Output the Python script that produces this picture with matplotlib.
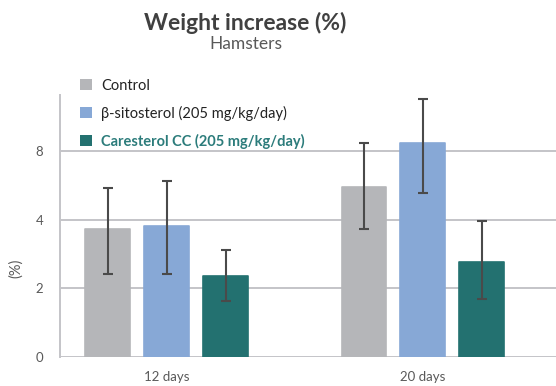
import numpy as np
import matplotlib
matplotlib.use("Agg")
import matplotlib.pyplot as plt

plt.rcParams['font.family'] = ['Lato', 'DejaVu Sans']

# data (values read in axis units; tick labels as printed on the original)
groups = ["12 days", "20 days"]
series = ["Control", "β-sitosterol (205 mg/kg/day)", "Caresterol CC (205 mg/kg/day)"]
means = [
    [3.73, 4.96],
    [3.82, 6.25],
    [2.36, 2.77],
]
err_low = [
    [2.41, 3.73],
    [2.41, 4.79],
    [1.63, 1.70],
]
err_high = [
    [4.92, 6.24],
    [5.13, 7.52],
    [3.13, 3.97],
]
ytick_pos = [0, 2, 4, 6]
ytick_labels = ["0", "2", "4", "8"]

colors = ["#b5b6b9", "#87a8d6", "#237170"]
grid_col = "#c4c4c8"
text_col = "#595959"

fig = plt.figure(figsize=(5.56, 3.86), dpi=100)
ax = fig.add_axes([60 / 556, 29 / 386, 496 / 556, 262 / 386])

x = np.arange(len(groups))
width = 0.174
step = 0.23
for i, name in enumerate(series):
    m = np.array(means[i])
    lo = m - np.array(err_low[i])
    hi = np.array(err_high[i]) - m
    xs = x + (i - 1) * step
    ax.bar(xs, m, width=width, color=colors[i], edgecolor=colors[i],
           linewidth=1.2, joinstyle="round", label=name, zorder=2)
    ax.errorbar(xs, m, yerr=[lo, hi], fmt="none", ecolor="#4a4a4a",
                elinewidth=1.5, capsize=3.3, capthick=1.5, zorder=3)

ax.set_xlim(-0.416, 1.52)
ax.set_ylim(0, 7.64)
ax.set_yticks(ytick_pos)
ax.set_yticklabels(ytick_labels)
ax.set_xticks(x)
ax.set_xticklabels(groups)
ax.tick_params(axis="both", length=0, labelsize=9.5, labelcolor=text_col)
ax.tick_params(axis="y", pad=12)
ax.tick_params(axis="x", pad=10)
ax.yaxis.grid(True, color=grid_col, linewidth=1.4, zorder=0)
ax.set_axisbelow(True)
for s in ["top", "right", "bottom"]:
    ax.spines[s].set_visible(False)
ax.spines["left"].set_color(grid_col)
ax.spines["left"].set_linewidth(1.4)

ax.set_ylabel("(%)", fontsize=10.5, color=text_col)
ax.yaxis.set_label_coords(-0.075, 0.34)

leg = ax.legend(loc="upper left", bbox_to_anchor=(14 / 496, 1.085), frameon=False,
                fontsize=10.5, handlelength=0.8, handleheight=0.8,
                labelspacing=0.9, handletextpad=0.65, borderaxespad=0)
for t in leg.get_texts():
    t.set_color("#222222")
leg.get_texts()[2].set_color("#2c7c7b")
leg.get_texts()[2].set_fontweight("bold")
for h in leg.legend_handles:
    h.set_linewidth(0)

fig.text(245 / 556, 1 - 23 / 386, "Weight increase (%)", ha="center", va="center",
         fontsize=16.5, fontweight="bold", color="#404040")
fig.text(246 / 556, 1 - 44 / 386, "Hamsters", ha="center", va="center",
         fontsize=12.5, color=text_col)

fig.savefig("out.png", dpi=100)
